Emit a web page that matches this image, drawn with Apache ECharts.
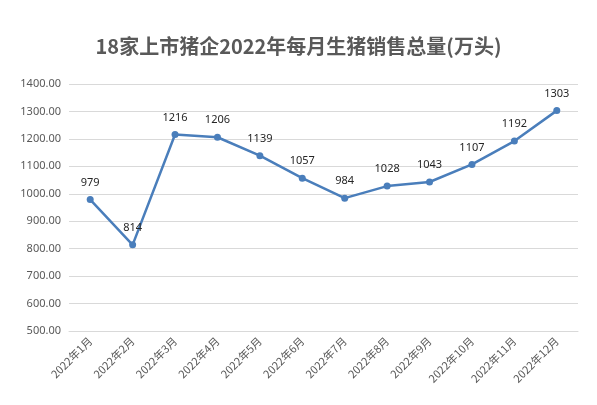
<!DOCTYPE html>
<html><head><meta charset="utf-8">
<script src="https://cdn.jsdelivr.net/npm/echarts@6/dist/echarts.min.js"></script>
<style>html,body{margin:0;padding:0;background:#fff}#c{width:597px;height:405px}</style>
</head><body><div id="c"></div>
<script>
const categories = ['2022年1月','2022年2月','2022年3月','2022年4月','2022年5月','2022年6月','2022年7月','2022年8月','2022年9月','2022年10月','2022年11月','2022年12月'];
const values = [979,814,1216,1206,1139,1057,984,1028,1043,1107,1192,1303];
const chart = echarts.init(document.getElementById('c'));
chart.setOption({
  animation:false,
  title:{text:'18家上市猪企2022年每月生猪销售总量(万头)',left:'center',top:31,
    textStyle:{fontSize:20,fontWeight:'bold',color:'#595959',fontFamily:'Noto Sans CJK SC'}},
  grid:{left:69,right:19,top:84,bottom:74},
  xAxis:{type:'category',data:categories,
    axisLine:{lineStyle:{color:'#d9d9d9'}},axisTick:{show:false},
    axisLabel:{rotate:45,color:'#595959',fontSize:11,fontFamily:'Noto Sans CJK SC',margin:8}},
  yAxis:{type:'value',min:500,max:1400,interval:100,
    axisLine:{show:false},axisTick:{show:false},
    splitLine:{lineStyle:{color:'#d9d9d9'}},
    axisLabel:{formatter:v=>v.toFixed(2),color:'#595959',fontSize:11,fontFamily:'Noto Sans'}},
  series:[{type:'line',data:values,symbol:'circle',symbolSize:7,
    lineStyle:{color:'#4a7ebb',width:2.5},itemStyle:{color:'#4a7ebb'},
    label:{show:true,position:'top',distance:8,color:'#262626',fontSize:11,fontFamily:'Noto Sans'}}]
});
</script></body></html>
